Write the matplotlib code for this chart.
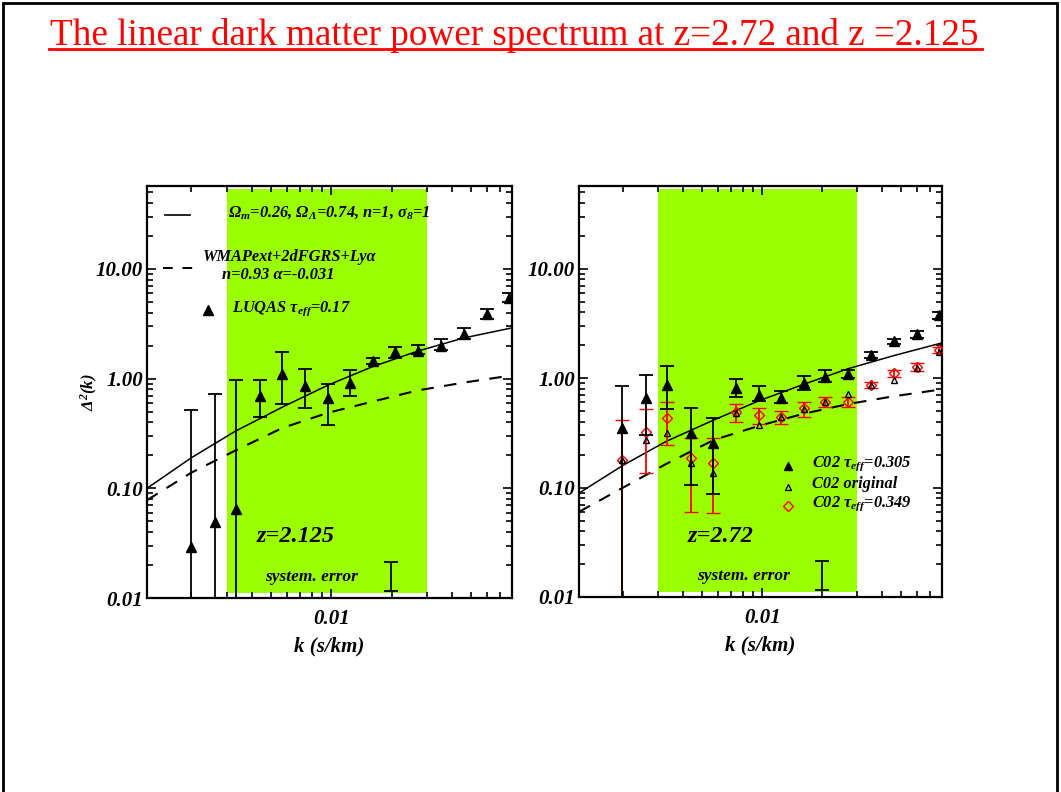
import matplotlib
matplotlib.use('Agg')
import matplotlib.pyplot as plt
import numpy as np
import matplotlib.ticker as mticker
from matplotlib.lines import Line2D
from matplotlib.patches import Rectangle

plt.rcParams['font.family'] = ['Liberation Serif', 'DejaVu Serif']
plt.rcParams['mathtext.fontset'] = 'custom'
plt.rcParams['mathtext.rm'] = 'Liberation Serif:bold:italic'
plt.rcParams['mathtext.it'] = 'Liberation Serif:bold:italic'
plt.rcParams['mathtext.bf'] = 'Liberation Serif:bold:italic'

# ---------------- data ----------------
title = "The linear dark matter power spectrum at z=2.72 and z =2.125"

k_bins = [0.00198, 0.00262, 0.00333, 0.00439, 0.00566, 0.00737, 0.00961,
          0.01238, 0.01612, 0.02078, 0.02707, 0.0353, 0.0460, 0.0599, 0.0772]

# left panel: LUQAS tau_eff = 0.17, z = 2.125
luqas_val = [0.029, 0.049, 0.065, 0.70, 1.11, 0.85, 0.66, 0.92, 1.46, 1.73, 1.80, 2.00, 2.57, 3.91, 5.48]
luqas_lo = [0.001, 0.001, 0.001, 0.45, 0.59, 0.54, 0.38, 0.70, 1.37, 1.55, 1.69, 1.84, 2.32, 3.52, 5.0]
luqas_hi = [0.52, 0.73, 0.98, 0.98, 1.73, 1.23, 0.90, 1.21, 1.55, 1.96, 2.04, 2.32, 2.92, 4.35, 6.0]

# right panel: C02, z = 2.72
c02_305_val = [0.35, 0.66, 0.86, 0.315, 0.255, 0.81, 0.70, 0.66, 0.90, 1.02, 1.09, 1.62, 2.17, 2.52, 3.75]
c02_305_lo = [0.001, 0.30, 0.52, 0.106, 0.088, 0.67, 0.62, 0.59, 0.78, 0.92, 1.00, 1.52, 2.05, 2.35, 3.5]
c02_305_hi = [0.85, 1.06, 1.29, 0.53, 0.43, 0.98, 0.85, 0.76, 1.04, 1.18, 1.18, 1.72, 2.30, 2.70, 4.0]

c02_orig_val = [0.18, 0.27, 0.315, 0.168, 0.136, 0.48, 0.373, 0.44, 0.52, 0.60, 0.715, 0.86, 0.96, 1.25, 1.75]

c02_349_val = [0.179, 0.322, 0.432, 0.187, 0.168, 0.49, 0.46, 0.44, 0.53, 0.60, 0.60, 0.86, 1.11, 1.26, 1.80]
c02_349_lo = [0.001, 0.136, 0.245, 0.060, 0.059, 0.397, 0.38, 0.38, 0.44, 0.54, 0.54, 0.81, 1.02, 1.16, 1.70]
c02_349_hi = [0.414, 0.52, 0.604, 0.284, 0.284, 0.58, 0.53, 0.50, 0.60, 0.67, 0.67, 0.92, 1.18, 1.37, 1.92]

# model curves
k_curve = [0.0012, 0.002, 0.0033, 0.0057, 0.0096, 0.016, 0.027, 0.046, 0.08]
left_solid = [0.10, 0.19, 0.33, 0.55, 0.87, 1.28, 1.78, 2.35, 2.9]
left_dashed = [0.078, 0.139, 0.22, 0.355, 0.487, 0.616, 0.78, 0.92, 1.07]
right_solid = [0.089, 0.16, 0.265, 0.414, 0.62, 0.873, 1.22, 1.61, 2.1]
right_dashed = [0.060, 0.10, 0.165, 0.272, 0.366, 0.471, 0.58, 0.684, 0.79]

# systematic error bar
sys_k = 0.0199
sys_lo, sys_hi = 0.0117, 0.0215

y_ticks = [0.01, 0.1, 1, 10]
y_ticklabels = ['0.01', '0.10', '1.00', '10.00']
x_ticks = [0.01]
x_ticklabels = ['0.01']
xlim = (0.0012, 0.08)
ylim = (0.01, 57)
band = (0.003, 0.03)

# ---------------- figure ----------------
W, H = 1061, 792
fig = plt.figure(figsize=(W / 100, H / 100), dpi=100)

GREEN = '#9cff00'
BI = dict(fontweight='bold', fontstyle='italic')


def add_axes_px(x0, x1, y0, y1):
    return fig.add_axes([x0 / W, 1 - y1 / H, (x1 - x0) / W, (y1 - y0) / H])


def style(ax):
    ax.set_xscale('log')
    ax.set_yscale('log')
    ax.set_xlim(*xlim)
    ax.set_ylim(*ylim)
    ax.xaxis.set_major_locator(mticker.FixedLocator(x_ticks))
    ax.xaxis.set_major_formatter(mticker.FixedFormatter(x_ticklabels))
    ax.xaxis.set_minor_locator(mticker.LogLocator(base=10, subs=np.arange(2, 10), numticks=30))
    ax.xaxis.set_minor_formatter(mticker.NullFormatter())
    ax.yaxis.set_major_locator(mticker.FixedLocator(y_ticks))
    ax.yaxis.set_major_formatter(mticker.FixedFormatter(y_ticklabels))
    ax.yaxis.set_minor_locator(mticker.LogLocator(base=10, subs=np.arange(2, 10), numticks=30))
    ax.yaxis.set_minor_formatter(mticker.NullFormatter())
    ax.tick_params(which='both', direction='in', top=True, right=True, width=1.2, color='k')
    ax.tick_params(which='major', length=6.5)
    ax.tick_params(which='minor', length=4)
    ax.tick_params(axis='y', which='major', pad=3)
    ax.tick_params(axis='x', which='major', pad=8)
    for lab in ax.get_xticklabels() + ax.get_yticklabels():
        lab.set_fontsize(15)
        lab.set_fontweight('bold')
        lab.set_fontstyle('italic')
    for s in ax.spines.values():
        s.set_linewidth(1.6)
    ax.set_xlabel('k (s/km)', fontsize=15, labelpad=5, **BI)
    ax.axvspan(band[0], band[1], ymin=0.012, ymax=0.993, color=GREEN, zorder=0, lw=0)


def sys_err(ax):
    c = np.sqrt(sys_lo * sys_hi)
    ax.errorbar([sys_k], [c], yerr=[[c - sys_lo], [sys_hi - c]],
                fmt='none', ecolor='k', elinewidth=1.3, capsize=5, capthick=1.3, zorder=3)


def errs(v, lo, hi):
    v = np.array(v); lo = np.array(lo); hi = np.array(hi)
    return [v - lo, hi - v]


def fx(box, px):
    return (px - box[0]) / (box[1] - box[0])


def fy(box, py):
    return (box[3] - py) / (box[3] - box[2])


LEG = 11.8

# left panel
LB = (147, 512, 186, 598)
axL = add_axes_px(*LB)
style(axL)
axL.plot(k_curve, left_solid, color='k', lw=1.1, zorder=2)
axL.plot(k_curve, left_dashed, color='k', lw=1.5, ls=(0, (6, 5)), zorder=2)
axL.errorbar(k_bins, luqas_val, yerr=errs(luqas_val, luqas_lo, luqas_hi), fmt='^',
             color='k', ms=7, elinewidth=1.3, capsize=5, capthick=1.3, zorder=4)
sys_err(axL)
axL.set_ylabel(r'$\Delta^2(k)$', fontsize=12, labelpad=-3)

tkw = dict(transform=axL.transAxes, va='center', ha='left', **BI)
axL.add_line(Line2D([fx(LB, 165), fx(LB, 190)], [fy(LB, 215)] * 2, transform=axL.transAxes, color='k', lw=1.2))
axL.text(fx(LB, 228), fy(LB, 213), r'$\Omega_m$=0.26, $\Omega_\Lambda$=0.74, n=1, $\sigma_8$=1', fontsize=LEG, **tkw)
axL.add_line(Line2D([fx(LB, 163), fx(LB, 197)], [fy(LB, 268)] * 2, transform=axL.transAxes, color='k', lw=1.4, ls=(0, (5, 5))))
axL.text(fx(LB, 203), fy(LB, 257), 'WMAPext+2dFGRS+Lyα', fontsize=LEG, **tkw)
axL.text(fx(LB, 222), fy(LB, 275), 'n=0.93 α=-0.031', fontsize=LEG, **tkw)
axL.plot([fx(LB, 208)], [fy(LB, 310)], marker='^', color='k', ms=7, transform=axL.transAxes)
axL.text(fx(LB, 232), fy(LB, 309), r'LUQAS $\tau_{eff}$=0.17', fontsize=LEG, **tkw)
axL.text(fx(LB, 257), fy(LB, 537), 'z=2.125', fontsize=17.5, **tkw)
axL.text(fx(LB, 265), fy(LB, 577), 'system. error', fontsize=12.5, **tkw)

# right panel
RB = (579, 942, 186, 597)
axR = add_axes_px(*RB)
style(axR)
axR.plot(k_curve, right_solid, color='k', lw=1.1, zorder=2)
axR.plot(k_curve, right_dashed, color='k', lw=1.5, ls=(0, (6, 5)), zorder=2)
axR.errorbar(k_bins, c02_349_val, yerr=errs(c02_349_val, c02_349_lo, c02_349_hi), fmt='D',
             color='red', mfc='none', mec='red', ms=5.5, mew=1.0, elinewidth=1.3, capsize=5,
             capthick=1.3, zorder=3)
axR.errorbar(k_bins, c02_305_val, yerr=errs(c02_305_val, c02_305_lo, c02_305_hi), fmt='^',
             color='k', ms=7, elinewidth=1.3, capsize=5, capthick=1.3, zorder=4)
axR.plot(k_bins, c02_orig_val, ls='none', marker='^', mfc='none', mec='k', ms=5, mew=1.0, zorder=5)
sys_err(axR)

tkw = dict(transform=axR.transAxes, va='center', ha='left', **BI)
axR.plot([fx(RB, 788)], [fy(RB, 466)], marker='^', color='k', ms=6, transform=axR.transAxes)
axR.text(fx(RB, 812), fy(RB, 464), r'C02 $\tau_{eff}$=0.305', fontsize=LEG, **tkw)
axR.plot([fx(RB, 788)], [fy(RB, 487)], marker='^', mfc='none', mec='k', ms=5, transform=axR.transAxes)
axR.text(fx(RB, 812), fy(RB, 484), 'C02 original', fontsize=LEG, **tkw)
axR.plot([fx(RB, 788)], [fy(RB, 506)], marker='D', mfc='none', mec='red', ms=5, transform=axR.transAxes)
axR.text(fx(RB, 812), fy(RB, 504), r'C02 $\tau_{eff}$=0.349', fontsize=LEG, **tkw)
axR.text(fx(RB, 688), fy(RB, 537), 'z=2.72', fontsize=17.5, **tkw)
axR.text(fx(RB, 697), fy(RB, 576), 'system. error', fontsize=12.5, **tkw)

# title with underline
fig.text(50 / W, 1 - 45 / H, title, color='red', fontsize=26.7, ha='left', va='baseline',
         fontfamily='Liberation Serif')
fig.add_artist(Line2D([49 / W, 982 / W], [1 - 49 / H] * 2, color='red', lw=2))

# page frame
fig.add_artist(Rectangle((3 / W, -0.05), 1054 / W, 1 - 3 / H + 0.05, fill=False,
                         edgecolor='k', lw=2, transform=fig.transFigure))

fig.savefig('out.png', dpi=100)
